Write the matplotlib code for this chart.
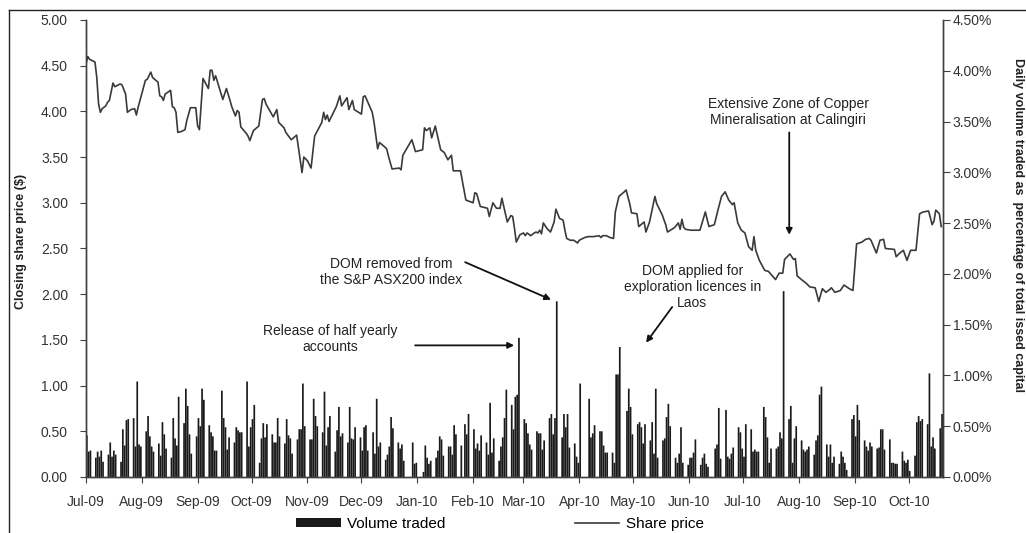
import matplotlib
matplotlib.use("Agg")
import matplotlib.pyplot as plt
import matplotlib.dates as mdates
from matplotlib.lines import Line2D
from matplotlib.patches import Patch
from matplotlib.ticker import MultipleLocator, FuncFormatter
import pandas as pd

plt.rcParams['font.family'] = ['Liberation Sans', 'DejaVu Sans']

START = '2009-07-01'
END = '2010-10-19'

# closing share price ($), keyed by days since 1 Jul 2009
price_day = [0, 1, 2, 4, 5, 6, 7, 8, 9, 11, 12, 13, 15, 16, 19, 20, 22, 23, 25, 27,
             28, 29, 30, 33, 34, 36, 37, 40, 41, 42, 43, 44, 47, 48, 49, 50, 51, 53, 55, 56,
             58, 61, 62, 63, 65, 68, 69, 70, 71, 72, 74, 76, 78, 80, 81, 83, 84, 85, 86, 89,
             90, 91, 93, 96, 98, 99, 100, 104, 106, 107, 110, 111, 114, 117, 120, 121, 123, 125, 127, 131,
             132, 133, 134, 135, 139, 141, 142, 145, 146, 148, 149, 153, 154, 155, 157, 159, 160, 162, 163, 166,
             167, 168, 170, 174, 175, 176, 181, 183, 187, 188, 189, 191, 192, 194, 197, 199, 201, 203, 204, 208,
             211, 215, 216, 217, 219, 223, 224, 226, 228, 230, 231, 234, 236, 237, 238,
             239, 241, 243, 244, 245, 247, 249, 250, 251, 252, 253, 254, 256, 258, 260, 261, 263, 265, 266, 267,
             269, 271, 273, 274, 277, 279, 282, 285, 286, 287, 289, 291, 293, 294, 296, 299, 300, 302, 303, 306,
             307, 310, 311, 313, 316, 317, 318, 320, 322, 323, 327, 329, 330, 331, 332, 333, 336, 341, 344, 346,
             349, 351, 353, 355, 357, 359,
             360, 362, 364, 366, 368, 370, 371, 372, 374, 377, 379, 383, 385, 387, 388, 391, 393, 394, 395, 398,
             400, 402, 405, 407, 409, 411, 413, 414, 416, 419, 421, 424, 426, 428, 431, 433, 435, 436, 439, 441,
             443, 444, 449, 450, 452, 454, 456, 458, 461, 463, 465, 468, 470, 471, 472, 474, 475]
price = [4.52, 4.60, 4.57, 4.55, 4.54, 4.37, 4.08, 3.99, 4.03, 4.06, 4.10, 4.12, 4.31, 4.27, 4.30, 4.29, 4.19, 3.99, 4.02, 4.03,
         3.96, 4.05, 4.12, 4.34, 4.35, 4.43, 4.37, 4.32, 4.17, 4.16, 4.12, 4.19, 4.23, 4.05, 4.04, 3.99, 3.77, 3.78, 3.80, 3.90,
         4.04, 4.04, 3.84, 3.80, 4.36, 4.25, 4.45, 4.45, 4.34, 4.39, 4.26, 4.13, 4.25, 4.12, 4.05, 3.95, 4.01, 3.99, 3.83, 3.76,
         3.73, 3.68, 3.79, 3.84, 4.13, 4.14, 4.08, 3.94, 4.02, 3.88, 3.82, 3.77, 3.69, 3.74, 3.33, 3.50, 3.46, 3.38, 3.73, 3.88,
         3.99, 3.91, 3.96, 3.89, 4.05, 4.17, 4.06, 4.15, 4.02, 4.12, 4.02, 3.97, 4.16, 4.17, 4.08, 3.99, 3.88, 3.59, 3.66, 3.61,
         3.59, 3.51, 3.37, 3.38, 3.36, 3.52, 3.69, 3.56, 3.58, 3.82, 3.79, 3.82, 3.71, 3.84, 3.58, 3.55, 3.47, 3.52, 3.35, 3.35,
         3.03, 3.00, 3.11, 3.10, 2.96, 2.94, 2.85, 3.00, 2.94, 2.94, 3.05, 2.79, 2.86, 2.85, 2.72,
         2.57, 2.65, 2.67, 2.64, 2.67, 2.64, 2.67, 2.68, 2.67, 2.70, 2.66, 2.78, 2.72, 2.68, 2.79, 2.93, 2.83, 2.81, 2.70, 2.61,
         2.59, 2.59, 2.56, 2.59, 2.62, 2.63, 2.63, 2.64, 2.62, 2.64, 2.64, 2.62, 2.61, 2.90, 3.07, 3.12, 3.14, 2.99, 2.89, 2.88,
         2.74, 2.79, 2.68, 2.79, 3.07, 2.99, 2.95, 2.87, 2.76, 2.68, 2.73, 2.78, 2.71, 2.82, 2.73, 2.71, 2.70, 2.70, 2.90, 2.74,
         2.76, 2.92, 3.07, 3.12, 3.03, 2.98,
         3.00, 2.78, 2.70, 2.67, 2.52, 2.48, 2.63, 2.48, 2.37, 2.26, 2.25, 2.16, 2.23, 2.23, 2.38, 2.44, 2.38, 2.39, 2.20, 2.15,
         2.12, 2.08, 2.07, 1.92, 2.06, 2.02, 2.05, 2.07, 2.02, 2.04, 2.10, 2.06, 2.04, 2.55, 2.57, 2.60, 2.61, 2.59, 2.45, 2.59,
         2.60, 2.50, 2.49, 2.41, 2.45, 2.48, 2.37, 2.48, 2.48, 2.88, 2.90, 2.91, 2.76, 2.80, 2.92, 2.88, 2.74]

# daily volume traded (% of issued capital), one row per trading week (Mon-Fri)
volume_weeks = [
    [0.41, 0.25, 0.26],                  # 1 Jul 09
    [0.19, 0.25, 0.20, 0.26, 0.15],
    [0.22, 0.34, 0.20, 0.26, 0.22],
    [0.15, 0.47, 0.31, 0.56, 0.57],
    [0.58, 0.30, 0.94, 0.32, 0.30],
    [0.45, 0.60, 0.40, 0.30, 0.25],      # 3 Aug 09
    [0.33, 0.21, 0.54, 0.42, 0.28],
    [0.19, 0.58, 0.38, 0.31, 0.79],
    [0.53, 0.87, 0.70, 0.42, 0.23],
    [0.40, 0.58, 0.50, 0.87, 0.76],
    [0.51, 0.44, 0.40, 0.26, 0.26],      # 7 Sep 09
    [0.85, 0.58, 0.49, 0.27, 0.39],
    [0.34, 0.49, 0.46, 0.44, 0.44],
    [0.94, 0.30, 0.49, 0.57, 0.71],
    [0.14, 0.38, 0.53, 0.39, 0.52],      # 5 Oct 09
    [0.42, 0.34, 0.34, 0.58, 0.40],
    [0.33, 0.57, 0.41, 0.38, 0.23],
    [0.37, 0.47, 0.47, 0.92, 0.50],
    [0.37, 0.37, 0.77, 0.60, 0.50],      # 2 Nov 09
    [0.44, 0.84, 0.31, 0.49, 0.60],
    [0.25, 0.46, 0.69, 0.40, 0.43],
    [0.34, 0.69, 0.38, 0.37, 0.49],
    [0.39, 0.26, 0.49, 0.51, 0.26],
    [0.44, 0.23, 0.77, 0.30, 0.34],      # 7 Dec 09
    [0.17, 0.22, 0.30, 0.59, 0.48],
    [0.34, 0.28, 0.32, 0.16, 0.00],
    [0.00, 0.34, 0.13, 0.14, 0.00],
    [0.05, 0.31, 0.19, 0.13, 0.16],      # 4 Jan 10
    [0.19, 0.26, 0.40, 0.37, 0.21],
    [0.30, 0.30, 0.22, 0.51, 0.42],
    [0.31, 0.00, 0.52, 0.42, 0.62],
    [0.47, 0.28, 0.33, 0.26, 0.41],      # 1 Feb 10
    [0.34, 0.22, 0.73, 0.24, 0.38],
    [0.16, 0.30, 0.39, 0.58, 0.86],
    [0.71, 0.47, 0.79, 0.81, 1.37],
    [0.57, 0.53, 0.43, 0.32, 0.27],      # 1 Mar 10
    [0.45, 0.43, 0.43, 0.27, 0.36],
    [0.58, 0.62, 0.42, 0.58, 1.73],
    [0.39, 0.62, 0.49, 0.62, 0.29],
    [0.33, 0.20, 0.14, 0.92, 0.00],
    [0.00, 0.77, 0.39, 0.43, 0.51],      # 5 Apr 10
    [0.45, 0.45, 0.31, 0.24, 0.24],
    [0.24, 0.14, 1.01, 1.01, 1.28],
    [0.00, 0.65, 0.87, 0.69, 0.42],
    [0.52, 0.54, 0.49, 0.33, 0.52],      # 3 May 10
    [0.36, 0.54, 0.23, 0.87, 0.19],
    [0.36, 0.38, 0.59, 0.72, 0.50],
    [0.19, 0.14, 0.23, 0.49, 0.14],
    [0.12, 0.19, 0.19, 0.24, 0.37],
    [0.12, 0.19, 0.23, 0.13, 0.10],      # 7 Jun 10
    [0.00, 0.28, 0.32, 0.68, 0.18],
    [0.66, 0.20, 0.18, 0.23, 0.29],
    [0.49, 0.44, 0.28, 0.20, 0.52],
    [0.47, 0.25, 0.27, 0.25, 0.25],      # 5 Jul 10
    [0.69, 0.59, 0.39, 0.14, 0.28],
    [0.28, 0.30, 0.44, 0.38, 1.83],
    [0.57, 0.70, 0.14, 0.38, 0.50],
    [0.36, 0.27, 0.25, 0.27, 0.30],      # 2 Aug 10
    [0.22, 0.36, 0.41, 0.81, 0.89],
    [0.32, 0.20, 0.32, 0.14, 0.20],
    [0.13, 0.25, 0.20, 0.14, 0.07],
    [0.57, 0.61, 0.40, 0.71, 0.56],
    [0.36, 0.30, 0.26, 0.34, 0.30],      # 6 Sep 10
    [0.28, 0.29, 0.47, 0.47, 0.27],
    [0.37, 0.14, 0.14, 0.13, 0.13],
    [0.25, 0.16, 0.14, 0.17, 0.06],
    [0.21, 0.54, 0.60, 0.55, 0.57],      # 4 Oct 10
    [0.52, 1.02, 0.30, 0.39, 0.28],
    [0.48, 0.62],
]

volume = [v for week in volume_weeks for v in week]
trade_days = pd.bdate_range(START, END)
price_dates = pd.Timestamp(START) + pd.to_timedelta(price_day, unit='D')

t0 = mdates.date2num(pd.Timestamp(START))

def day(n):
    return t0 + n

fig = plt.figure(figsize=(10.26, 5.33), dpi=100)
ax = fig.add_axes([0.0838, 0.1051, 0.8353, 0.8574])
ax2 = ax.twinx()

grey = '#404040'
ax2.bar(trade_days, volume, width=0.95, align='edge', color='#1a1a1a', linewidth=0, snap=False)
ax.plot(price_dates, price, color='#3a3a3a', lw=1.2)

ax.set_zorder(ax2.get_zorder() + 1)
ax.patch.set_visible(False)

ax.set_xlim(pd.Timestamp(START), pd.Timestamp('2010-10-20'))
ax.set_ylim(0, 5)
ax2.set_ylim(0, 4.5)
ax.yaxis.set_major_locator(MultipleLocator(0.5))
ax2.yaxis.set_major_locator(MultipleLocator(0.5))
ax.yaxis.set_major_formatter(FuncFormatter(lambda v, p: f'{v:.2f}'))
ax2.yaxis.set_major_formatter(FuncFormatter(lambda v, p: f'{v:.2f}%'))
ax.xaxis.set_major_locator(mdates.MonthLocator())
ax.xaxis.set_major_formatter(mdates.DateFormatter('%b-%y'))

for a in (ax, ax2):
    a.spines['top'].set_visible(False)
    for s in ('left', 'right', 'bottom'):
        a.spines[s].set_color(grey)
        a.spines[s].set_linewidth(1.0)
ax.tick_params(axis='y', direction='out', length=4, pad=9, labelsize=10, colors=grey, labelcolor='#333333')
ax.tick_params(axis='x', direction='out', length=4, pad=9, labelsize=10, colors=grey, labelcolor='#333333')
ax2.tick_params(axis='y', direction='out', length=5, pad=2, labelsize=10, colors=grey, labelcolor='#333333')

fig.text(21 / 1026, 1 - 241 / 533, 'Closing share price ($)', rotation=90, ha='center', va='center',
         fontsize=9, fontweight='bold', color='#222222')
fig.text(1018 / 1026, 1 - 225 / 533, 'Daily volume traded as  percentage of total issed capital',
         rotation=270, ha='center', va='center', fontsize=9, fontweight='bold', color='#222222')

note = dict(fontsize=10, color='#222222', ha='center', va='center', linespacing=1.15)
arrow = dict(arrowstyle='-|>', color='#111111', lw=1.3, mutation_scale=9, shrinkA=0, shrinkB=0)

ax.text(day(135.6), 1.51, 'Release of half yearly\naccounts', **note)
ax.annotate('', xy=(day(237.8), 1.44), xytext=(day(182.8), 1.44), arrowprops=arrow)

ax.text(day(169.4), 2.24, 'DOM removed from\nthe S&P ASX200 index', **note)
ax.annotate('', xy=(day(258.3), 1.94), xytext=(day(210.6), 2.35), arrowprops=arrow)

ax.text(day(336.7), 2.08, 'DOM applied for\nexploration licences in\nLaos', **note)
ax.annotate('', xy=(day(311.1), 1.47), xytext=(day(325.6), 1.86), arrowprops=arrow)

ax.text(day(390), 3.99, 'Extensive Zone of Copper\nMineralisation at Calingiri', **note)
ax.annotate('', xy=(day(390.6), 2.65), xytext=(day(390.6), 3.77), arrowprops=arrow)

handles = [Patch(facecolor='#1a1a1a', edgecolor='none'),
           Line2D([0], [0], color='#3a3a3a', lw=1.2)]
fig.legend(handles, ['Volume traded', 'Share price'], loc='center', ncol=2,
           bbox_to_anchor=(500 / 1026, 1 - 524 / 533), frameon=False, fontsize=11,
           handlelength=2.9, handletextpad=0.4, columnspacing=8.5, handleheight=0.6)

# outer chart frame (cropped at the right and bottom)
fig.add_artist(Line2D([9 / 1026, 9 / 1026], [0, 1 - 10 / 533], color='#222222', lw=1.0))
fig.add_artist(Line2D([9 / 1026, 1], [1 - 10 / 533, 1 - 10 / 533], color='#222222', lw=1.0))

fig.savefig('out.png', dpi=100)
